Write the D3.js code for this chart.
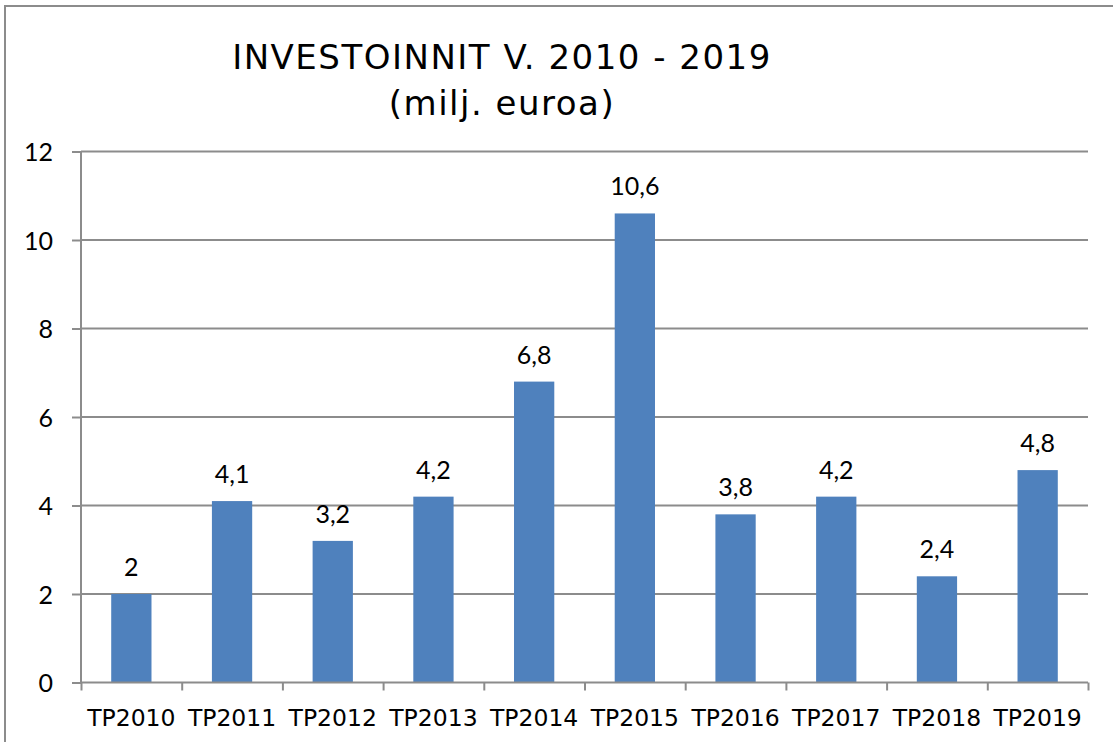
<!DOCTYPE html>
<html lang="fi">
  <head>
    <title>Investoinnit v. 2010 - 2019</title>
    <meta charset="utf-8">
    <script src="https://d3js.org/d3.v7.min.js"></script>
    <style>
      body { margin: 0; background: #fff; }
      .grid line { stroke: #8c8c8c; stroke-width: 2; }
      .axis path, .axis line { stroke: #8c8c8c; stroke-width: 2; }
      .axis text { fill: #000; }
    </style>
  </head>
  <body>
    <div id="main"></div>
    <script>
      var categories = ["TP2010", "TP2011", "TP2012", "TP2013", "TP2014", "TP2015", "TP2016", "TP2017", "TP2018", "TP2019"];
      var investments = [2, 4.1, 3.2, 4.2, 6.8, 10.6, 3.8, 4.2, 2.4, 4.8];
      var yTicks = [0, 2, 4, 6, 8, 10, 12];
      var titleLines = ["INVESTOINNIT V. 2010 - 2019", "(milj. euroa)"];

      var width = 1113, height = 742;
      var plotLeft = 81, plotRight = 1088, plotTop = 151.5, plotBottom = 682.5;

      var svg = d3.select("#main").append("svg")
        .attr("width", width)
        .attr("height", height);

      // outer frame of the chart object
      svg.append("rect")
        .attr("x", 5).attr("y", 6)
        .attr("width", 1130).attr("height", 760)
        .attr("fill", "none")
        .attr("stroke", "#8c8c8c")
        .attr("stroke-width", 2);

      var x = d3.scaleBand().domain(categories).range([plotLeft, plotRight]).paddingInner(0.6).paddingOuter(0.3);
      var xEdges = d3.scaleLinear().domain([0, categories.length]).range([plotLeft, plotRight]);
      var y = d3.scaleLinear().domain([0, 12]).range([plotBottom, plotTop]);

      // title
      svg.append("g").selectAll("text").data(titleLines).enter().append("text")
        .attr("x", 502)
        .attr("y", function(d, i) { return i == 0 ? 69 : 115; })
        .attr("text-anchor", "middle")
        .style("font-family", "'DejaVu Sans', Verdana, sans-serif")
        .style("font-size", "34px")
        .style("letter-spacing", "1.5px")
        .text(function(d) { return d; });

      // gridlines
      svg.append("g").attr("class", "grid")
        .selectAll("line").data(yTicks.filter(function(d) { return d > 0; })).enter().append("line")
        .attr("x1", plotLeft).attr("x2", plotRight)
        .attr("y1", function(d) { return y(d); })
        .attr("y2", function(d) { return y(d); });

      // bars
      svg.append("g").selectAll("rect").data(investments).enter().append("rect")
        .attr("x", function(d, i) { return x(categories[i]); })
        .attr("y", function(d) { return y(d); })
        .attr("width", x.bandwidth())
        .attr("height", function(d) { return y(0) - y(d); })
        .attr("fill", "#4f81bd");

      // value labels
      svg.append("g").selectAll("text").data(investments).enter().append("text")
        .attr("x", function(d, i) { return x(categories[i]) + x.bandwidth() / 2; })
        .attr("y", function(d) { return y(d) - 18; })
        .attr("text-anchor", "middle")
        .style("font-family", "Lato, sans-serif")
        .style("font-size", "25px")
        .text(function(d) { return String(d).replace(".", ","); });

      // y axis
      var yAxis = d3.axisLeft(y).tickValues(yTicks).tickSize(9).tickPadding(19).tickFormat(d3.format("d"));
      svg.append("g").attr("class", "axis")
        .attr("transform", "translate(" + plotLeft + ",0)")
        .call(yAxis)
        .call(function(g) { g.select(".domain").attr("d", "M0," + plotTop + "V" + plotBottom); })
        .selectAll("text")
          .style("font-family", "Lato, sans-serif")
          .style("font-size", "25px")
          .attr("dy", "0.36em");

      // x axis: ticks at category edges, labels centred
      var xAxis = d3.axisBottom(xEdges).tickValues(d3.range(0, categories.length + 1)).tickSize(8).tickFormat("");
      svg.append("g").attr("class", "axis")
        .attr("transform", "translate(0," + plotBottom + ")")
        .call(xAxis)
        .call(function(g) { g.select(".domain").attr("d", "M" + plotLeft + ",0H" + plotRight); });

      svg.append("g").selectAll("text").data(categories).enter().append("text")
        .attr("x", function(d) { return x(d) + x.bandwidth() / 2; })
        .attr("y", plotBottom + 43.5)
        .attr("text-anchor", "middle")
        .style("font-family", "'DejaVu Sans', Verdana, sans-serif")
        .style("font-size", "23.5px")
        .text(function(d) { return d; });
    </script>
  </body>
</html>
